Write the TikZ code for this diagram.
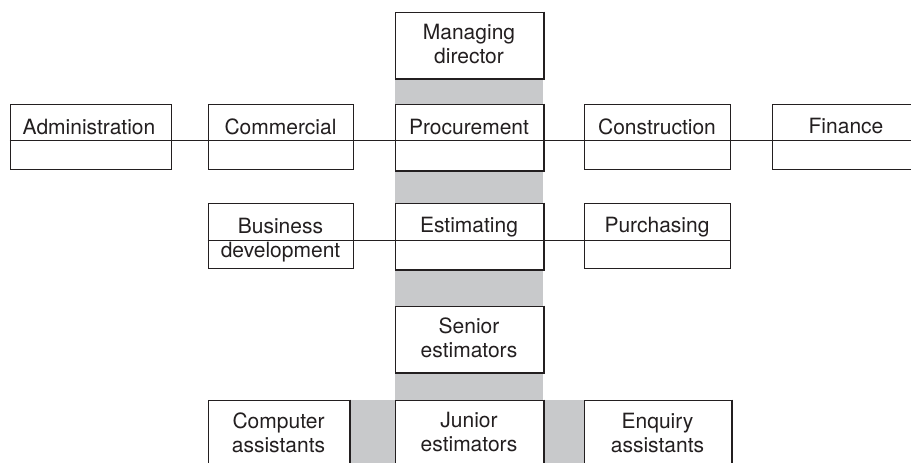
\documentclass[tikz,border=0pt]{standalone}
\usepackage{fontspec}
\setmainfont{TeX Gyre Heros}
\definecolor{band}{RGB}{200,201,203}
\definecolor{ink}{RGB}{35,31,32}
\begin{document}
\begin{tikzpicture}[x=1pt,y=-1pt,
  box/.style={draw=ink, line width=0.9pt, fill=white, rectangle, inner sep=0pt},
  lbl/.style={font=\fontsize{21}{24}\selectfont, text=ink, align=center, inner sep=0pt},
  one/.style={lbl, anchor=base},
  thickedge/.style={draw=ink, line width=2.4pt},
  conn/.style={draw=ink, line width=0.9pt}]
\useasboundingbox (0,0) rectangle (911,463);
\clip (0,0) rectangle (911,463);
% grey bands
\fill[band] (395,78) rectangle (543,463);
\fill[band] (349,400) rectangle (584,463);
% boxes
\node[box, minimum width=148pt, minimum height=66pt] (md)  at (469,45) {};
\node[box, minimum width=161pt, minimum height=65pt] (adm) at (90.5,136.5) {};
\node[box, minimum width=145pt, minimum height=65pt] (com) at (280.5,136.5) {};
\node[box, minimum width=148pt, minimum height=66pt] (pro) at (469,137) {};
\node[box, minimum width=146pt, minimum height=65pt] (con) at (657,136.5) {};
\node[box, minimum width=158pt, minimum height=65pt] (fin) at (851,136.5) {};
\node[box, minimum width=145pt, minimum height=65pt] (bus) at (280.5,235.5) {};
\node[box, minimum width=148pt, minimum height=66pt] (est) at (469,236) {};
\node[box, minimum width=146pt, minimum height=65pt] (pur) at (657,235.5) {};
\node[box, minimum width=148pt, minimum height=66pt] (sen) at (469,339) {};
\node[box, minimum width=148pt, minimum height=70pt] (jun) at (469,435) {};
\node[box, minimum width=141pt, minimum height=70pt] (cmp) at (278.5,435) {};
\node[box, minimum width=147pt, minimum height=70pt] (enq) at (657.5,435) {};
% heavy right and bottom edges
\foreach \n in {md,pro,est,sen,jun,cmp,enq}
  \draw[thickedge] ([xshift=0.8pt]\n.north east) -- ([xshift=0.8pt,yshift=-0.8pt]\n.south east) -- ([yshift=-0.8pt]\n.south west);
% connectors / dividers
\coordinate (r1) at (0,140);
\coordinate (r2) at (0,240);
\draw[conn] (adm.west |- r1) -- (fin.east |- r1);
\draw[conn] (bus.west |- r2) -- (pur.east |- r2);
% labels
\node[lbl] (mdt) at (469,44) {Managing\\director};
\node[one] (admt) at (89,134) {Administration};
\node[one] (comt) at (280.5,134) {Commercial};
\node[one] (prot) at (469,134) {Procurement};
\node[one] (cont) at (657,134) {Construction};
\node[one] (fint) at (846,133) {Finance};
\node[lbl] (bust) at (280.5,240.5) {Business\\development};
\node[one] (estt) at (469,232) {Estimating};
\node[one] (purt) at (657,232) {Purchasing};
\node[lbl] (sent) at (469,337.5) {Senior\\estimators};
\node[lbl] (junt) at (469,432) {Junior\\estimators};
\node[lbl] (cmpt) at (278.5,432.5) {Computer\\assistants};
\node[lbl] (enqt) at (657.5,432.5) {Enquiry\\assistants};
\end{tikzpicture}
\end{document}
